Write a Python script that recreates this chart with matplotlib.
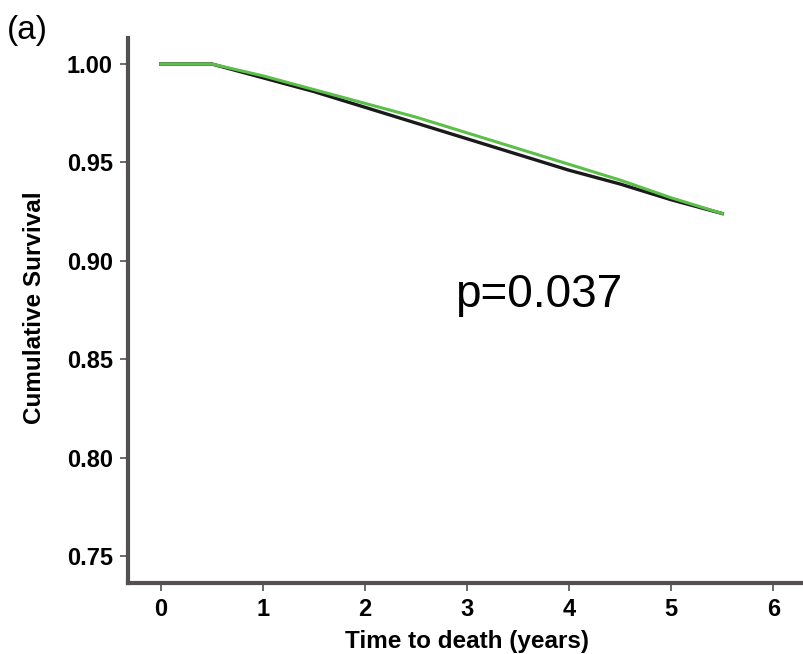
import matplotlib
matplotlib.use("Agg")
import matplotlib.pyplot as plt

# Kaplan-Meier curves
years = [0, 0.5, 1.0, 1.5, 2.0, 2.5, 3.0, 3.5, 4.0, 4.5, 5.0, 5.5]
surv_black = [1.0, 1.0, 0.993, 0.986, 0.978, 0.970, 0.962, 0.954, 0.946, 0.939, 0.931, 0.924]
surv_green = [1.0, 1.0, 0.994, 0.987, 0.980, 0.973, 0.965, 0.957, 0.949, 0.941, 0.932, 0.924]

x_ticks = [0, 1, 2, 3, 4, 5, 6]
y_ticks = [0.75, 0.80, 0.85, 0.90, 0.95, 1.00]

plt.rcParams['font.family'] = ['Liberation Sans', 'DejaVu Sans']

fig = plt.figure(figsize=(8.04, 6.54), dpi=100)
ax = fig.add_axes([0.1592, 0.1086, 0.8408, 0.8333])

ax.plot(years, surv_green, color='#5cbf4a', lw=2.2, zorder=3)
ax.plot(years, surv_black, color='#1a1a1a', lw=2.4, zorder=2)

ax.set_xlim(-0.32, 6.3)
ax.set_ylim(0.7363, 1.0132)
ax.set_xticks(x_ticks)
ax.set_yticks(y_ticks)
ax.set_yticklabels([f'{v:.2f}' for v in y_ticks])

for side in ['top', 'right']:
    ax.spines[side].set_visible(False)
for side in ['left', 'bottom']:
    ax.spines[side].set_color('#555050')
    ax.spines[side].set_linewidth(3)

ax.tick_params(direction='out', length=6, width=1.2, color='#555050', labelsize=17, pad=5)
for lab in ax.get_xticklabels() + ax.get_yticklabels():
    lab.set_fontweight('bold')

ax.set_xlabel('Time to death (years)', fontsize=17.5, fontweight='bold')
ax.set_ylabel('Cumulative Survival', fontsize=17.5, fontweight='bold')
ax.xaxis.set_label_coords(0.502, -0.087)
ax.yaxis.set_label_coords(-0.121, 0.506)

ax.text(2.88, 0.8765, 'p=0.037', fontsize=33, ha='left', va='baseline')
fig.text(0.008, 0.954, '(a)', fontsize=24, ha='left', va='center')

plt.savefig('out.png', dpi=100)
plt.close()
